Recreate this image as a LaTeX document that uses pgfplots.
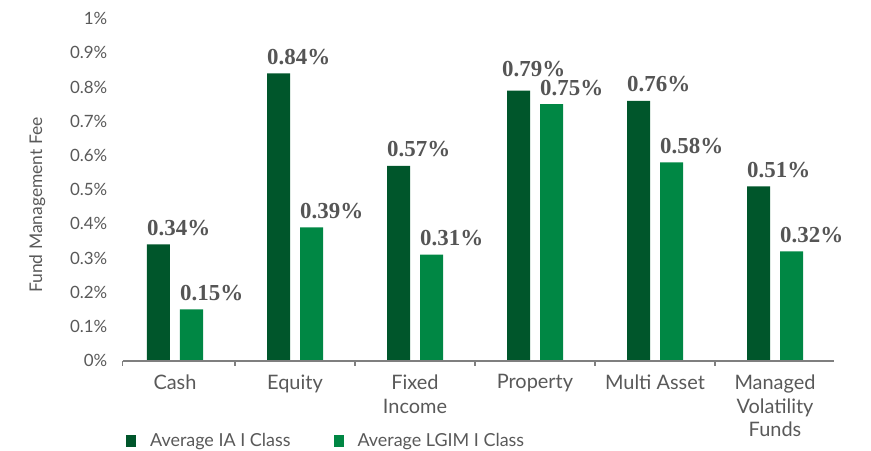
\documentclass[border=0pt]{standalone}
\usepackage{fontspec}
\setmainfont{Lato}
\newfontfamily\labfont{Liberation Serif}
\usepackage{pgfplots}
\pgfplotsset{compat=1.18}
\definecolor{darkg}{HTML}{00562B}
\definecolor{lightg}{HTML}{008744}
\definecolor{txtgray}{HTML}{595959}
\definecolor{labgray}{HTML}{555555}
\definecolor{axgray}{HTML}{7F7F7F}
\begin{document}
\begin{tikzpicture}
\path[use as bounding box] (-115bp,-90.3bp) rectangle (756bp,360.7bp);
\begin{axis}[
  at={(0,0)}, anchor=south west,
  scale only axis, width=720bp, height=342bp,
  xmin=-0.5, xmax=5.5, ymin=0, ymax=1,
  ybar=10bp, bar width=23bp,
  separate axis lines,
  axis x line*=bottom, axis y line*=left,
  x axis line style={draw=none},
  y axis line style={draw=none},
  xtick={0,1,2,3,4,5},
  xticklabels={Cash,Equity,{Fixed\\Income},Property,{Multi Asset},{Managed\\Volatility\\Funds}},
  major x tick style={draw=none},
  minor xtick={-0.436,0.5,1.5,2.5,3.5,4.5},
  minor x tick style={axgray, line width=1.5bp},
  minor tick length=5bp,
  tick align=outside,
  ytick={0,0.1,0.2,0.3,0.4,0.5,0.6,0.7,0.8,0.9,1},
  yticklabels={0\%,0.1\%,0.2\%,0.3\%,0.4\%,0.5\%,0.6\%,0.7\%,0.8\%,0.9\%,1\%},
  major y tick style={draw=none},
  xticklabel style={align=center, font=\fontsize{20}{24}\selectfont, text=txtgray, yshift=-6bp},
  yticklabel style={font=\fontsize{17}{20}\selectfont, text=txtgray},
  ylabel={Fund Management Fee},
  ylabel style={at={(axis description cs:-0.108,0.455)}, anchor=center, font=\fontsize{17.5}{20}\selectfont, text=txtgray},
  legend columns=2,
  legend style={draw=none, at={(axis description cs:0.011,-0.234)}, anchor=west,
    font=\fontsize{18}{20}\selectfont, text=txtgray,
    /tikz/every even column/.append style={column sep=41bp}},
  legend image code/.code={\fill[#1] (0bp,-6bp) rectangle (10bp,6bp); \path[draw=none,fill=none] (0bp,0bp) rectangle (22bp,0.1bp);},
  nodes near coords,
  point meta=explicit symbolic,
  every node near coord/.append style={anchor=base west, xshift=-11.5bp, yshift=9bp, inner sep=0pt,
    font=\labfont\bfseries\fontsize{23}{23}\selectfont, text=labgray},
  clip=false,
]
\addplot[draw=none, fill=darkg] coordinates {
  (0,0.34) [0.34\%]
  (1,0.84) [0.84\%]
  (2,0.57) [0.57\%]
  (3,0.79) [\hspace*{-5bp}\raisebox{5bp}{0.79\%}]
  (4,0.76) [0.76\%]
  (5,0.51) [0.51\%]
};
\addplot[draw=none, fill=lightg] coordinates {
  (0,0.15) [0.15\%]
  (1,0.39) [0.39\%]
  (2,0.31) [0.31\%]
  (3,0.75) [0.75\%]
  (4,0.58) [0.58\%]
  (5,0.32) [0.32\%]
};
\legend{Average IA I Class,Average LGIM I Class}
\draw[axgray, line width=2bp] (axis cs:-0.436,0) -- (axis cs:5.49,0);
\end{axis}
\end{tikzpicture}
\end{document}
